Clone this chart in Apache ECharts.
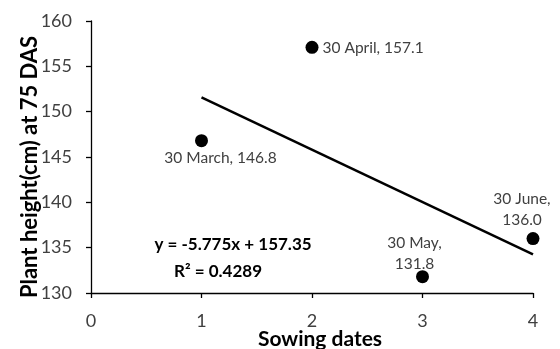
<!DOCTYPE html>
<html><head><meta charset="utf-8">
<script src="https://cdn.jsdelivr.net/npm/echarts@6/dist/echarts.min.js"></script>
<style>html,body{margin:0;padding:0;background:#fff}#c{width:560px;height:349px}</style>
</head><body><div id="c"></div>
<script>
var sowingIndex = [1, 2, 3, 4];
var sowingNames = ['30 March', '30 April', '30 May', '30 June'];
var plantHeight = [146.8, 157.1, 131.8, 136.0];
var trendX = [1, 4];
var trendY = [151.575, 134.25];
var xTicks = [0, 1, 2, 3, 4];
var yTicks = [130, 135, 140, 145, 150, 155, 160];
var equationText = 'y = -5.775x + 157.35';
var r2Text = 'R² = 0.4289';

var FONT = 'Lato';
var labelCfg = [
  {position: 'bottom', distance: 0, offset: [19, 0], align: 'center', fmt: function(n, v){return n + ', ' + v.toFixed(1);}},
  {position: 'right', distance: 4, offset: [0, 1], align: 'left', fmt: function(n, v){return n + ', ' + v.toFixed(1);}},
  {position: 'top', distance: -4, offset: [-8, 0], align: 'center', fmt: function(n, v){return n + ',\n' + v.toFixed(1);}},
  {position: 'top', distance: 2, offset: [-11, 0], align: 'center', fmt: function(n, v){return n + ',\n' + v.toFixed(1);}}
];
var pts = sowingIndex.map(function(x, i){
  var c = labelCfg[i];
  return {value: [x, plantHeight[i]], label: {show: true, position: c.position, distance: c.distance, offset: c.offset,
    align: c.align, formatter: c.fmt(sowingNames[i], plantHeight[i])}};
});
var eqStyle = {fontFamily: FONT, fontWeight: 'bold', fontSize: 17, fill: '#000', align: 'center', verticalAlign: 'middle'};
var chart = echarts.init(document.getElementById('c'));
chart.setOption({
  animation: false,
  grid: {left: 91, right: 27, top: 21, bottom: 56, containLabel: false, outerBoundsMode: 'none'},
  xAxis: {type: 'value', min: xTicks[0], max: xTicks[xTicks.length-1], interval: 1,
    name: 'Sowing dates', nameLocation: 'middle', nameGap: 36, nameMoveOverlap: false,
    nameTextStyle: {fontFamily: FONT, fontWeight: 'bold', fontSize: 21, color: '#000', padding: [0, 0, 0, 16]},
    axisLine: {onZero: false, lineStyle: {color: '#000', width: 1.3}},
    axisTick: {show: true, length: 5, lineStyle: {color: '#000', width: 1.3}},
    axisLabel: {margin: 19, fontFamily: FONT, fontSize: 18, color: '#404040'},
    splitLine: {show: false}},
  yAxis: {type: 'value', min: yTicks[0], max: yTicks[yTicks.length-1], interval: 5,
    name: 'Plant height(cm) at 75 DAS', nameLocation: 'middle', nameGap: 50, nameMoveOverlap: false,
    nameTextStyle: {fontFamily: FONT, fontWeight: 'bold', fontSize: 22, color: '#000', padding: [0, 20, 0, 0]},
    axisLine: {show: true, lineStyle: {color: '#000', width: 1.3}},
    axisTick: {show: true, length: 5, lineStyle: {color: '#000', width: 1.3}},
    axisLabel: {margin: 19, fontFamily: FONT, fontSize: 18, color: '#404040'},
    splitLine: {show: false}},
  series: [
    {type: 'line', data: trendX.map(function(x, i){return [x, trendY[i]];}), symbol: 'none',
     lineStyle: {color: '#000', width: 2.5}, silent: true, z: 2},
    {type: 'scatter', data: pts, symbol: 'circle', symbolSize: 13,
     itemStyle: {color: '#000', opacity: 1}, z: 3,
     label: {fontFamily: FONT, fontSize: 15.5, color: '#404040', lineHeight: 21}}
  ],
  graphic: [
    {type: 'text', x: 233, y: 245, z: 10, style: Object.assign({text: equationText}, eqStyle)},
    {type: 'text', x: 218, y: 272, z: 10, style: Object.assign({text: r2Text}, eqStyle)}
  ]
});
</script></body></html>
